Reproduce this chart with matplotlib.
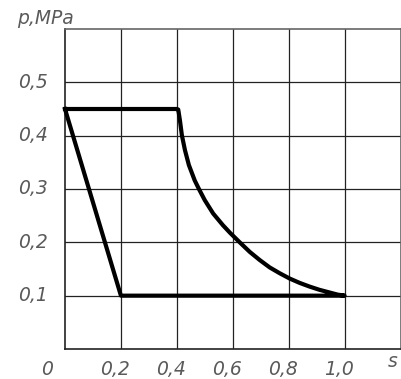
import matplotlib
matplotlib.use("Agg")
import matplotlib.pyplot as plt

# ---------------------------------------------------------------------------
# Datos (leídos del diagrama p-s)
# ---------------------------------------------------------------------------

x_ticks = [0.2, 0.4, 0.6, 0.8, 1.0]
x_labels = ["0,2", "0,4", "0,6", "0,8", "1,0"]
y_ticks = [0.1, 0.2, 0.3, 0.4, 0.5]
y_labels = ["0,1", "0,2", "0,3", "0,4", "0,5"]

# admisión a presión constante
top_s = [0.0, 0.4]
top_p = [0.45, 0.45]

# expansión
curve_s = [0.4, 0.405, 0.411, 0.418, 0.429, 0.443, 0.464, 0.480, 0.500,
           0.530, 0.565, 0.590, 0.625, 0.661, 0.696, 0.732, 0.768, 0.804,
           0.839, 0.875, 0.910, 0.946, 0.975, 1.000]
curve_p = [0.45, 0.449, 0.429, 0.401, 0.373, 0.345, 0.316, 0.299, 0.279,
           0.254, 0.232, 0.218, 0.200, 0.182, 0.167, 0.153, 0.142, 0.132,
           0.124, 0.117, 0.111, 0.106, 0.102, 0.100]

# escape y compresión
bottom_s = [1.0, 0.2, 0.0]
bottom_p = [0.1, 0.1, 0.45]

# ---------------------------------------------------------------------------
# Figura
# ---------------------------------------------------------------------------

txt = dict(family="DejaVu Sans", style="italic", fontsize=13.5, color="#5a5a5a")

fig = plt.figure(figsize=(4.01, 3.79), dpi=100, facecolor="white")
ax = fig.add_axes([65 / 401, 30 / 379, 335.5 / 401, 320 / 379])

ax.set_xlim(0, 1.2)
ax.set_ylim(0, 0.6)
ax.set_xticks(x_ticks)
ax.set_yticks(y_ticks)
ax.set_xticklabels([])
ax.set_yticklabels([])
ax.tick_params(length=0)
ax.grid(True, color="#222222", linewidth=0.9)
for sp in ax.spines.values():
    sp.set_edgecolor("#666666")
    sp.set_linewidth(1.2)
ax.spines["left"].set_edgecolor("#222222")
ax.spines["bottom"].set_edgecolor("#222222")

s_all = top_s + curve_s[1:] + bottom_s[1:]
p_all = top_p + curve_p[1:] + bottom_p[1:]
ax.plot(s_all, p_all, color="black", linewidth=3.0,
        solid_joinstyle="round", clip_on=False, zorder=5)

for v, lab in zip(y_ticks, y_labels):
    ax.text(-0.061, v, lab, ha="right", va="center", **txt)
for v, lab in zip(x_ticks, x_labels):
    ax.text(v - 0.02, -0.048, lab, ha="center", va="baseline", **txt)
ax.text(-0.064, -0.048, "0", ha="center", va="baseline", **txt)
ax.text(1.171, -0.034, "s", ha="center", va="baseline", **txt)
ax.text(-0.171, 0.609, "p,MPa", ha="left", va="baseline", **txt)

plt.savefig("out.png", dpi=100, facecolor=fig.get_facecolor())
plt.close(fig)
